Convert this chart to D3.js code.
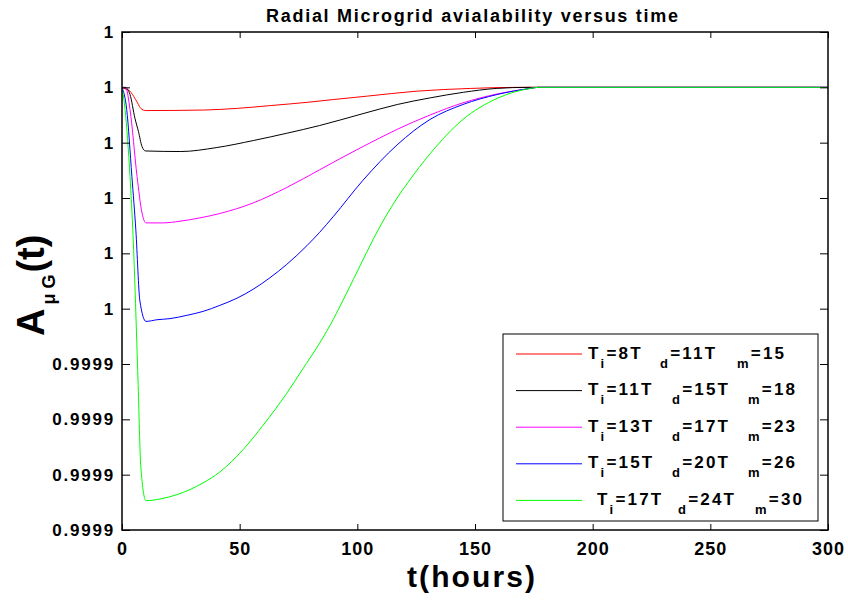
<!DOCTYPE html>
<html>
<head>
<meta charset="utf-8">
<script src="https://cdn.jsdelivr.net/npm/d3@7/dist/d3.min.js"></script>
<style>
  body { margin: 0; background: #fff; }
  text { font-family: Arial, "Liberation Sans", sans-serif; font-weight: bold; fill: #000; }
</style>
</head>
<body>
<svg id="chart" width="848" height="600"></svg>
<script>
// Availability of the radial microgrid over time, one series per parameter set
const timeRed  = [0, 2, 3.4, 5.5, 8.5, 10, 35, 49, 63, 79, 90, 104, 125, 148, 168, 300];
const availRed = [0.99999, 0.9999896, 0.9999893, 0.999988, 0.999986, 0.9999858, 0.9999859, 0.9999862,
                  0.9999867, 0.9999873, 0.9999878, 0.9999884, 0.9999893, 0.9999898, 0.99999, 0.99999];

const timeBlack  = [0, 1.3, 3.4, 5.5, 7, 8.5, 10, 25, 40, 56, 70, 84, 102, 117, 131, 145, 159, 173, 300];
const availBlack = [0.99999, 0.99999, 0.9999887, 0.9999844, 0.999982, 0.9999793, 0.9999785, 0.9999784,
                    0.9999791, 0.9999804, 0.9999817, 0.9999831, 0.9999852, 0.9999869, 0.9999881,
                    0.9999891, 0.9999898, 0.99999, 0.99999];

const timeMagenta  = [0, 1.7, 3.4, 6.4, 8.5, 10.2, 17.4, 24.6, 33, 41.6, 55.7, 70, 84, 92.6, 102.4, 116.9,
                      130.9, 144.9, 159.4, 173.4, 177, 300];
const availMagenta = [0.99999, 0.9999898, 0.999986, 0.9999739, 0.9999673, 0.9999655, 0.9999655, 0.9999658,
                      0.9999664, 0.9999672, 0.9999691, 0.9999719, 0.9999751, 0.9999771, 0.9999793, 0.9999824,
                      0.999985, 0.9999872, 0.9999888, 0.9999898, 0.99999, 0.99999];

const timeBlue  = [0, 2, 4.2, 5.9, 7.6, 10.2, 14.9, 20.4, 27.6, 34.4, 41.6, 48.9, 55.7, 62.9, 70, 78.6, 84,
                   89.7, 102.4, 116.9, 130.9, 144.9, 159.4, 173.4, 177, 300];
const availBlue = [0.99999, 0.999986, 0.9999739, 0.9999641, 0.9999514, 0.9999477, 0.999948, 0.9999482,
                   0.9999488, 0.9999495, 0.9999506, 0.9999519, 0.9999535, 0.9999556, 0.999958, 0.9999614,
                   0.9999638, 0.9999666, 0.9999732, 0.9999796, 0.9999842, 0.9999869, 0.9999887, 0.9999898,
                   0.99999, 0.99999];

const timeGreen  = [0, 1.3, 3.4, 4.7, 6.8, 8, 10.2, 16.1, 23.4, 34.4, 41.6, 51.4, 59.9, 70, 76.5, 84, 89.7,
                    92.6, 104, 106.7, 116.9, 121.5, 130.9, 144.9, 159.4, 173.4, 177, 300];
const availGreen = [0.99999, 0.999986, 0.9999739, 0.9999632, 0.9999371, 0.9999214, 0.9999153, 0.9999156,
                    0.9999164, 0.9999185, 0.9999205, 0.9999245, 0.9999289, 0.9999347, 0.9999389, 0.9999438,
                    0.999948, 0.9999504, 0.9999602, 0.9999625, 0.99997, 0.9999728, 0.999978, 0.9999842,
                    0.999988, 0.9999898, 0.99999, 0.99999];

// Legend parameters (T_i, T_d, T_m) for each series
const tiValues = ["8", "11", "13", "15", "17"];
const tdValues = ["11", "15", "17", "20", "24"];
const tmValues = ["15", "18", "23", "26", "30"];

// Axis ticks and their printed labels (4-decimal display)
const xTicks = [0, 50, 100, 150, 200, 250, 300];
const yTicks = [0.99991, 0.99992, 0.99993, 0.99994, 0.99995, 0.99996, 0.99997, 0.99998, 0.99999, 1.0];
const yTickLabels = ["0.9999", "0.9999", "0.9999", "0.9999", "1", "1", "1", "1", "1", "1"];

const titleText = "Radial Microgrid avialability versus time";
const xLabelText = "t(hours)";

// ---- styling / layout ----
const seriesColors = ["#ff0000", "#000000", "#ff00ff", "#0000ff", "#00ff00"];
const series = [
  { t: timeRed, a: availRed },
  { t: timeBlack, a: availBlack },
  { t: timeMagenta, a: availMagenta },
  { t: timeBlue, a: availBlue },
  { t: timeGreen, a: availGreen }
];

const plot = { left: 122, right: 828, top: 32, bottom: 530 };

const svg = d3.select("#chart");

const x = d3.scaleLinear().domain([0, 300]).range([plot.left, plot.right]);
const y = d3.scaleLinear().domain([0.99991, 1.0]).range([plot.bottom, plot.top]);

svg.append("defs").append("clipPath").attr("id", "plot-clip")
  .append("rect")
  .attr("x", plot.left).attr("y", plot.top)
  .attr("width", plot.right - plot.left).attr("height", plot.bottom - plot.top);

// Curves
const line = d3.line()
  .x(d => x(d[0]))
  .y(d => y(d[1]))
  .curve(d3.curveMonotoneX);

const curves = svg.append("g").attr("clip-path", "url(#plot-clip)");
series.forEach((s, i) => {
  curves.append("path")
    .datum(s.t.map((t, k) => [t, s.a[k]]))
    .attr("fill", "none")
    .attr("stroke", seriesColors[i])
    .attr("stroke-width", 1)
    .attr("d", line);
});

// Axes (MATLAB style: inward ticks on all four sides)
function styleAxis(g) {
  g.select(".domain").remove();
  g.selectAll(".tick line").attr("stroke", "#000").attr("stroke-width", 1);
}

svg.append("g")
  .attr("transform", `translate(0,${plot.bottom})`)
  .call(d3.axisBottom(x).tickValues(xTicks).tickFormat(d3.format("d"))
    .tickSizeInner(-6).tickSizeOuter(0).tickPadding(12))
  .call(styleAxis)
  .call(g => g.selectAll(".tick text")
    .attr("font-size", 18).style("letter-spacing", "1px")
    .attr("font-family", "Arial, 'Liberation Sans', sans-serif").attr("font-weight", "bold"));

svg.append("g")
  .attr("transform", `translate(0,${plot.top})`)
  .call(d3.axisTop(x).tickValues(xTicks).tickFormat("")
    .tickSizeInner(-6).tickSizeOuter(0))
  .call(styleAxis);

svg.append("g")
  .attr("transform", `translate(${plot.left},0)`)
  .call(d3.axisLeft(y).tickValues(yTicks).tickFormat((d, i) => yTickLabels[i])
    .tickSizeInner(-8).tickSizeOuter(0).tickPadding(7))
  .call(styleAxis)
  .call(g => g.selectAll(".tick text")
    .attr("font-size", 17).style("letter-spacing", "1.8px")
    .attr("font-family", "Arial, 'Liberation Sans', sans-serif").attr("font-weight", "bold"));

svg.append("g")
  .attr("transform", `translate(${plot.right},0)`)
  .call(d3.axisRight(y).tickValues(yTicks).tickFormat("")
    .tickSizeInner(-8).tickSizeOuter(0))
  .call(styleAxis);

// Axes box
svg.append("rect")
  .attr("x", plot.left).attr("y", plot.top)
  .attr("width", plot.right - plot.left).attr("height", plot.bottom - plot.top)
  .attr("fill", "none").attr("stroke", "#000").attr("stroke-width", 1.5);

// Title
svg.append("text")
  .attr("x", 472).attr("y", 22)
  .attr("text-anchor", "middle")
  .attr("font-size", 18)
  .attr("textLength", 412).attr("lengthAdjust", "spacing")
  .text(titleText);

// X label
svg.append("text")
  .attr("x", 471).attr("y", 587)
  .attr("text-anchor", "middle")
  .attr("font-size", 30)
  .attr("textLength", 128).attr("lengthAdjust", "spacing")
  .text(xLabelText);

// Y label: A with subscript "μ G", then (t)
const yLabel = svg.append("text")
  .attr("transform", "translate(44,336) rotate(-90)")
  .attr("font-size", 38);
yLabel.append("tspan").text("A");
yLabel.append("tspan").attr("font-size", 18).attr("dx", 4).attr("dy", 11).text("μ G");
yLabel.append("tspan").attr("dy", -11).attr("dx", 2).text("(t)");

// Legend
const legend = { x: 503, y: 334, w: 315, h: 187, rowY0: 354, rowStep: 36.6 };
// left edge of the three text groups in each legend row
const legendCols = [[588, 660, 737], [588, 672, 748], [588, 672, 748], [588, 672, 748], [597, 678, 755]];

const lg = svg.append("g");
lg.append("rect")
  .attr("x", legend.x).attr("y", legend.y)
  .attr("width", legend.w).attr("height", legend.h)
  .attr("fill", "#fff").attr("stroke", "#000").attr("stroke-width", 1);

function legendGroup(parent, xPos, baseY, sub, rest, lead) {
  const t = parent.append("text")
    .attr("x", xPos).attr("y", baseY)
    .attr("font-size", 17)
    .style("letter-spacing", "2.2px");
  if (lead) t.append("tspan").text(lead);
  t.append("tspan").attr("font-size", 13).attr("dy", 9).text(sub);
  t.append("tspan").attr("dy", -9).text(rest);
  return t;
}

tiValues.forEach((ti, i) => {
  const ly = legend.rowY0 + i * legend.rowStep;
  lg.append("line")
    .attr("x1", 516).attr("x2", 582)
    .attr("y1", ly).attr("y2", ly)
    .attr("stroke", seriesColors[i]).attr("stroke-width", 1);
  const base = ly + 4.5;
  const cols = legendCols[i];
  legendGroup(lg, cols[0], base, "i", "=" + ti + "T", "T");
  legendGroup(lg, cols[1], base, "d", "=" + tdValues[i] + "T");
  legendGroup(lg, cols[2], base, "m", "=" + tmValues[i]);
});
</script>
</body>
</html>
